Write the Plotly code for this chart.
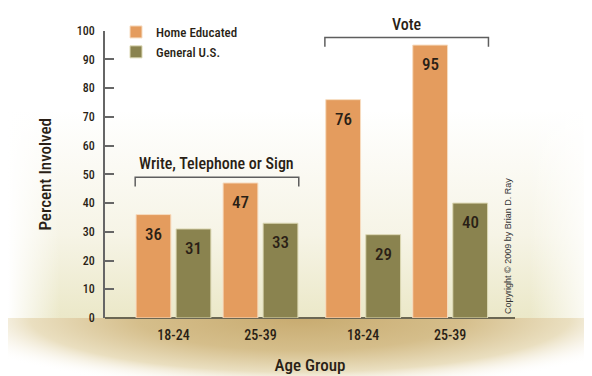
import plotly.graph_objects as go

# ---- data ----
age_groups = ["18-24", "25-39", "18-24", "25-39"]
x_pos = [0, 1, 2.18, 3.18]
home_educated = [36, 47, 76, 95]
general_us = [31, 33, 29, 40]
bracket_titles = ["Write, Telephone or Sign", "Vote"]
bracket_members = [(0, 1), (2, 3)]
bracket_levels = [49, 97.6]

FONT = "Roboto Condensed, DejaVu Sans Condensed, sans-serif"
ORANGE = "#E49C5E"
OLIVE = "#8A834F"
TXT = "#2a1f16"

W, H = 592, 376
OFF = 8  # page body margin


def fx(px):  # page x pixel -> paper fraction
    return (px - OFF) / W


def fy(py):  # page y pixel -> paper fraction (from bottom)
    return 1 - (py - OFF) / H


fig = go.Figure()

# ---- soft background (on a full-figure helper axis, in page pixels) ----
def bg_rect(x0, x1, y0, y1, grad):
    fig.add_trace(go.Scatter(x=[x0, x1, x1, x0, x0], y=[y0, y0, y1, y1, y0], mode="lines",
                             line=dict(width=0), fill="toself", fillgradient=grad,
                             hoverinfo="skip", showlegend=False, xaxis="x", yaxis="y"))

# tan glow under the axis (ellipse centred on the axis line)
bg_rect(-60, 660, 246, 390, dict(type="radial",
        colorscale=[[0, "#c8ab70"], [0.45, "#d5be8b"], [0.75, "#eadfc0"], [1, "rgba(255,255,255,0)"]]))
# cream wash above the axis (opaque, hides the upper half of the glow)
bg_rect(0, 610, 0, 318, dict(type="vertical", start=110, stop=318,
        colorscale=[[0, "#ffffff"], [0.6, "#f6f4e6"], [1, "#ebe8c8"]]))
# fade edges to white
bg_rect(0, 60, 0, 318, dict(type="horizontal", start=8, stop=60,
        colorscale=[[0, "rgba(255,255,255,1)"], [1, "rgba(255,255,255,0)"]]))
bg_rect(530, 610, 0, 318, dict(type="horizontal", start=530, stop=600,
        colorscale=[[0, "rgba(255,255,255,0)"], [1, "rgba(255,255,255,1)"]]))

# ---- bars ----
fig.add_trace(go.Bar(x=x_pos, y=home_educated, name="Home Educated",
                     marker=dict(color=ORANGE, line=dict(color="#f7dcc0", width=1)),
                     width=0.40, offset=-0.43, xaxis="x2", yaxis="y2"))
fig.add_trace(go.Bar(x=x_pos, y=general_us, name="General U.S.",
                     marker=dict(color=OLIVE, line=dict(color="#dcd8b4", width=1)),
                     width=0.40, offset=0.03, xaxis="x2", yaxis="y2"))

anns = []
for xp, v in zip(x_pos, home_educated):
    anns.append(dict(xref="x2", yref="y2", x=xp - 0.23, y=v, text=str(v), showarrow=False,
                     yanchor="middle", yshift=-19, font=dict(family=FONT, size=17, color=TXT, weight=500)))
for xp, v in zip(x_pos, general_us):
    anns.append(dict(xref="x2", yref="y2", x=xp + 0.23, y=v, text=str(v), showarrow=False,
                     yanchor="middle", yshift=-19, font=dict(family=FONT, size=17, color=TXT, weight=500)))

shapes = []
for title, (i, j), lvl in zip(bracket_titles, bracket_members, bracket_levels):
    xl = x_pos[i] - 0.44
    xr = x_pos[j] + 0.44
    shapes.append(dict(type="path", xref="x2", yref="y2",
                       path=f"M{xl},{lvl-3.2} L{xl},{lvl} L{xr},{lvl} L{xr},{lvl-3.2}",
                       line=dict(color="#5e5e5e", width=1.5)))
    anns.append(dict(xref="x2", yref="y2", x=(xl + xr) / 2, y=lvl, text=title, showarrow=False,
                     yanchor="bottom", yshift=2,
                     font=dict(family=FONT, size=16, color=TXT, weight=500)))

anns.append(dict(xref="x2 domain", yref="y2 domain", x=1.0, y=0.0,
                 text="Copyright © 2009 by Brian D. Ray",
                 textangle=-90, showarrow=False, xanchor="right", yanchor="bottom", yshift=2,
                 font=dict(family="Liberation Sans, Arial, sans-serif", size=9, color="#333")))

fig.update_layout(
    width=W, height=H,
    margin=dict(l=0, r=0, t=0, b=0),
    paper_bgcolor="white", plot_bgcolor="rgba(0,0,0,0)",
    barmode="overlay",
    font=dict(family=FONT, color=TXT),
    showlegend=True,
    legend=dict(x=fx(116), y=fy(17), xanchor="left", yanchor="top", bgcolor="rgba(0,0,0,0)",
                font=dict(family=FONT, size=13, color=TXT, weight=500), itemwidth=30, tracegroupgap=1),
    annotations=anns, shapes=shapes,
    xaxis=dict(domain=[0, 1], range=[OFF, OFF + W], visible=False, fixedrange=True),
    yaxis=dict(domain=[0, 1], range=[OFF + H, OFF], visible=False, fixedrange=True),
    xaxis2=dict(domain=[fx(105), fx(515)], anchor="y2", range=[-0.787, 3.925],
                tickvals=x_pos, ticktext=age_groups, automargin=False,
                showgrid=False, zeroline=False, showline=False, ticks="",
                ticklabelstandoff=7,
                tickfont=dict(family=FONT, size=14, color=TXT, weight=500),
                title=dict(text="Age Group", font=dict(family=FONT, size=17, color=TXT, weight=500),
                           standoff=17)),
    yaxis2=dict(domain=[fy(318), fy(30.7)], anchor="x2", range=[0, 100],
                tickvals=list(range(0, 101, 10)), showgrid=False, automargin=False,
                zeroline=True, zerolinecolor="#6b6753", zerolinewidth=2,
                showline=True, linecolor="#666", linewidth=1.5,
                ticks="inside", ticklen=9, tickcolor="#666", tickwidth=1.5,
                ticklabelstandoff=6,
                tickfont=dict(family=FONT, size=12, color=TXT, weight=500),
                title=dict(text="Percent Involved", font=dict(family=FONT, size=17, color=TXT, weight=500),
                           standoff=21)),
)

fig.write_html("out.html")
